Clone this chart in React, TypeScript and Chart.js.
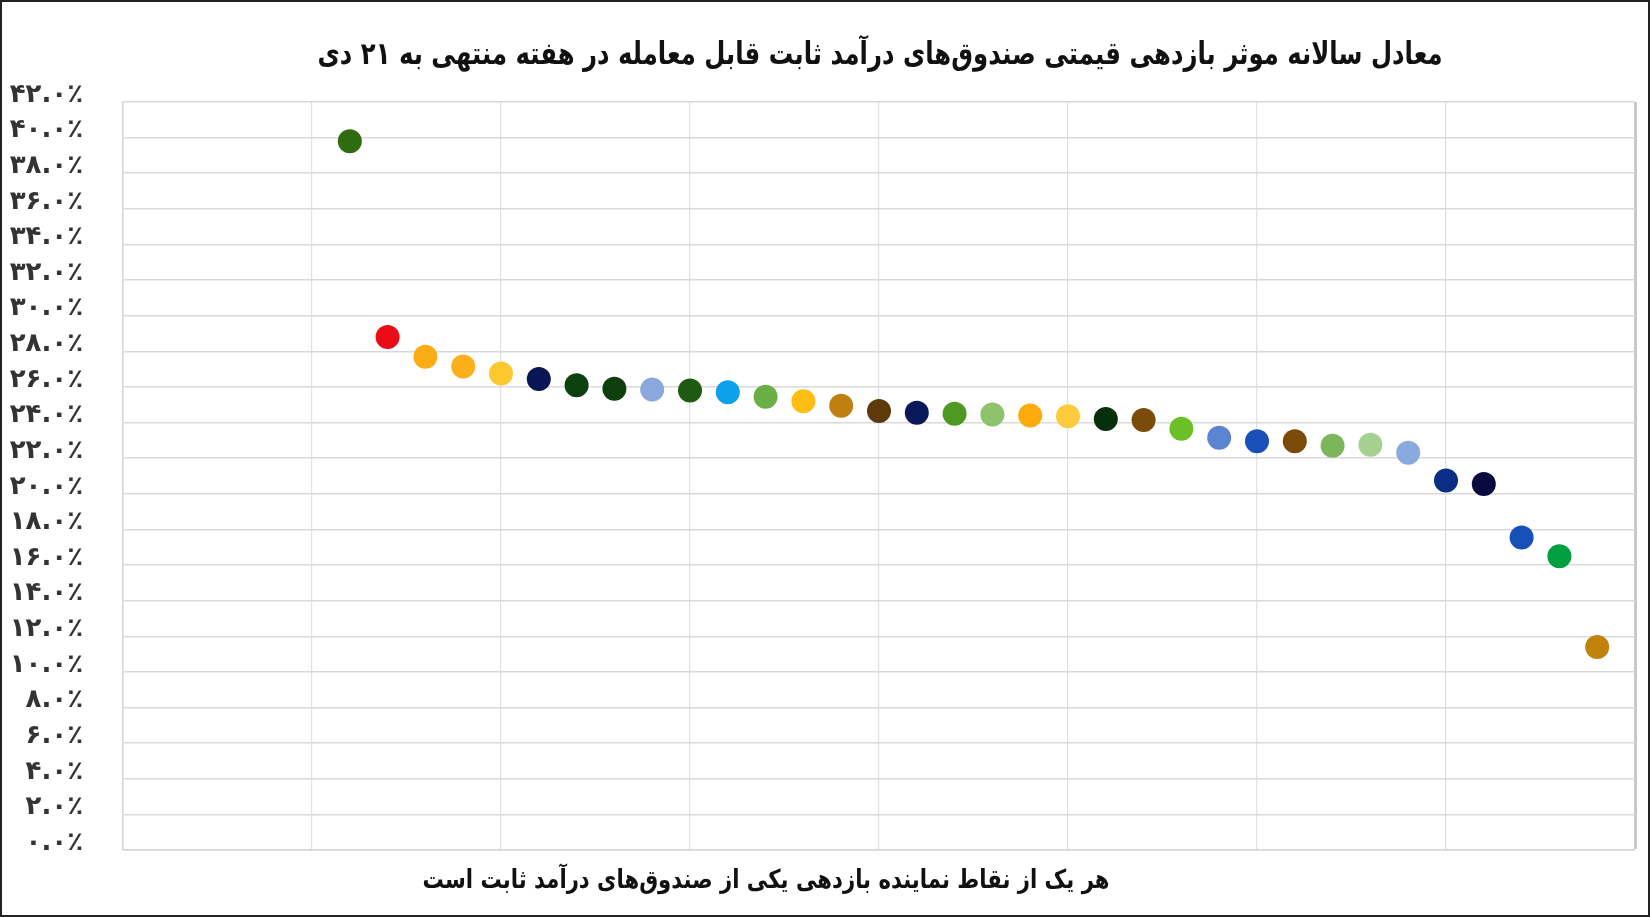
import React, { useEffect, useRef } from "react";
import { Chart, registerables } from "chart.js";

Chart.register(...registerables);

const chartTitle =
  "معادل سالانه موثر بازدهی قیمتی صندوق‌های درآمد ثابت قابل معامله در هفته منتهی به ۲۱ دی";
const chartCaption = "هر یک از نقاط نماینده بازدهی یکی از صندوق‌های درآمد ثابت است";

// position of each fund on the horizontal axis
const fundX = [
  6, 7, 8, 9, 10, 11, 12, 13, 14, 15, 16, 17, 18, 19, 20, 21, 22,
  23, 24, 25, 26, 27, 28, 29, 30, 31, 32, 33, 34, 35, 36, 37, 38, 39,
];

// annualized effective return (%)
const fundReturn = [
  39.8, 28.8, 27.7, 27.15, 26.75, 26.45, 26.1, 25.9, 25.85, 25.8, 25.7, 25.45,
  25.2, 24.95, 24.65, 24.55, 24.5, 24.45, 24.4, 24.35, 24.2, 24.15, 23.65,
  23.15, 22.95, 22.95, 22.7, 22.75, 22.3, 20.75, 20.55, 17.55, 16.5, 11.4,
];

const fundColors = [
  "#2f6c10", "#ea0c17", "#fbad14", "#fbb019", "#fdc72e", "#0a1556", "#0d410f",
  "#0f3e0d", "#8aa8dc", "#1f5a12", "#0ea0e8", "#6aae45", "#fdbd12", "#c08011",
  "#5c3a0a", "#081859", "#4c9a22", "#8dc46b", "#fcab0c", "#fdcb3c", "#05300a",
  "#7a4b0a", "#6cc027", "#5b85d0", "#1a4fb8", "#7c4a08", "#7cb55c", "#a4d190",
  "#8aa9de", "#0a2d86", "#080a40", "#1750b8", "#00a040", "#c0820a",
];

const yMin = 0;
const yMax = 42;
const yStep = 2;
const xMin = 0;
const xMax = 40;
const xStep = 5;

const persianDigits = "۰۱۲۳۴۵۶۷۸۹";
function toPersian(s: string): string {
  return s.replace(/[0-9]/g, (d) => persianDigits[Number(d)]);
}

function drawFitted(
  ctx: CanvasRenderingContext2D,
  text: string,
  cx: number,
  cy: number,
  size: number,
  targetWidth: number
) {
  ctx.save();
  ctx.font = `bold ${size}px "DejaVu Sans"`;
  const w = ctx.measureText(text).width;
  const sx = targetWidth / w;
  ctx.translate(cx, cy);
  ctx.scale(sx, 1);
  ctx.fillText(text, 0, 0);
  ctx.restore();
}

const textPlugin = {
  id: "textPlugin",
  afterDraw(chart: any) {
    const ctx = chart.ctx as CanvasRenderingContext2D;
    ctx.save();
    ctx.fillStyle = "#111111";
    ctx.textAlign = "center";
    ctx.textBaseline = "middle";
    (ctx as any).direction = "rtl";

    drawFitted(ctx, chartTitle, 880, 56, 31, 1125);
    drawFitted(ctx, chartCaption, 766, 881, 26, 687);

    ctx.strokeStyle = "#222222";
    ctx.lineWidth = 2;
    ctx.strokeRect(1, 1, chart.width - 2, chart.height - 2);
    ctx.restore();
  },
};

export default function App() {
  const canvasRef = useRef<HTMLCanvasElement | null>(null);

  useEffect(() => {
    document.body.style.margin = "0";
    const canvas = canvasRef.current;
    if (!canvas) return;
    const points = fundX.map((x, i) => ({ x, y: fundReturn[i] }));
    const chart = new Chart(canvas, {
      type: "scatter",
      data: {
        datasets: [
          {
            data: points,
            backgroundColor: fundColors,
            borderWidth: 0,
            pointRadius: 12,
            pointHoverRadius: 12,
            showLine: false,
          },
        ],
      },
      options: {
        animation: false,
        responsive: false,
        devicePixelRatio: 1,
        events: [],
        layout: { padding: { top: 102, right: 15, bottom: 67, left: 0 } },
        plugins: {
          legend: { display: false },
          title: { display: false },
          tooltip: { enabled: false },
        },
        scales: {
          x: {
            type: "linear",
            min: xMin,
            max: xMax,
            ticks: { stepSize: xStep, display: false },
            grid: {
              drawTicks: false,
              color: (c: any) => (c.tick && c.tick.value === xMax ? "#c8c8c8" : "#e0e0e0"),
              lineWidth: (c: any) => (c.tick && c.tick.value === xMax ? 3 : 1.2),
            },
            border: { display: true, color: "#d6d6d6", width: 1.5 },
            afterFit(scale: any) {
              scale.height = 0;
            },
          },
          y: {
            type: "linear",
            min: yMin,
            max: yMax,
            ticks: {
              stepSize: yStep,
              padding: 40,
              labelOffset: -7,
              color: "#333333",
              font: { family: "DejaVu Sans", size: 26, weight: "bold" },
              callback: (v: any) => toPersian(Number(v).toFixed(1)) + "٪",
            },
            grid: { drawTicks: false, color: "#d9d9d9", lineWidth: 1.5 },
            border: { display: true, color: "#d6d6d6", width: 1.5 },
            afterFit(scale: any) {
              scale.width = 123;
            },
          },
        },
      },
      plugins: [textPlugin],
    });
    return () => chart.destroy();
  }, []);

  return (
    <div style={{ width: 1650, height: 917, background: "#ffffff" }}>
      <canvas ref={canvasRef} width={1650} height={917} style={{ display: "block" }} />
    </div>
  );
}
